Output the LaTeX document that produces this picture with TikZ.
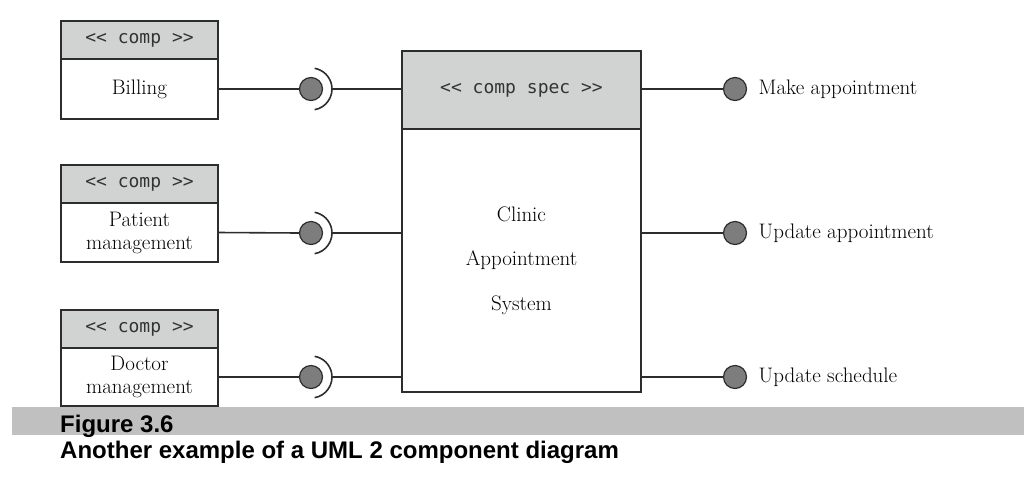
\documentclass[tikz,border=0pt]{standalone}
\usepackage{fontspec}
\usepackage{tikz}
\usetikzlibrary{positioning}
\newfontfamily\stereofont[Ligatures=TeXOff]{DejaVu Sans Mono}
\newfontfamily\capfont{Liberation Sans}
\definecolor{headgray}{RGB}{209,211,211}
\definecolor{ballgray}{RGB}{125,125,125}
\definecolor{linegray}{RGB}{45,45,45}
\definecolor{bargray}{RGB}{192,192,192}

\begin{document}
\begin{tikzpicture}[x=1pt,y=-1pt]
				\tikzstyle{comp}=[draw=linegray,line width=1.6pt,rectangle,minimum width=157pt,inner sep=0pt,outer sep=0pt,align=center,font=\fontsize{21}{23}\selectfont]
				\tikzstyle{head}=[fill=headgray,text=black!80,font=\stereofont\fontsize{18}{20}\selectfont]
				\tikzstyle{ball}=[circle,draw=linegray,fill=ballgray,line width=1.2pt,minimum size=23pt,inner sep=0pt,outer sep=0pt]
				\tikzstyle{wire}=[draw=linegray,line width=1.6pt]
				\tikzstyle{offer}=[inner sep=0pt,font=\fontsize{21}{23}\selectfont]
				\tikzstyle{capline}=[anchor=base west,inner sep=0pt,font=\capfont\bfseries\fontsize{24}{27}\selectfont]
				
				\useasboundingbox (0,0) rectangle (1024,491);
				
				% required components
				\node[comp,head,minimum height=38pt,anchor=north west] (billhead) at (61,21) {<< comp >>};
				\node[comp,minimum height=60pt,below=0pt of billhead] (bill) {Billing};
				\node[comp,head,minimum height=38pt,anchor=north west] (patienthead) at (61,165) {<< comp >>};
				\node[comp,minimum height=59pt,below=0pt of patienthead] (patient) {Patient\\management};
				\node[comp,head,minimum height=38pt,anchor=north west] (doctorhead) at (61,310) {<< comp >>};
				\node[comp,minimum height=58pt,below=0pt of doctorhead] (doctor) {Doctor\\management};
				
				% component spec
				\node[comp,head,minimum width=239pt,minimum height=78pt,anchor=north west] (spechead) at (402,51) {<< comp spec >>};
				\node[comp,minimum width=239pt,minimum height=263pt,below=0pt of spechead,font=\fontsize{21}{44.5}\selectfont] (spec) {Clinic\\Appointment\\System};
				
				% sockets
				\node[ball] (bball) at (311,89) {};
				\node[ball] (pball) at (311,233) {};
				\node[ball] (dball) at (311,377) {};
				\foreach \s in {bball,pball,dball}{
					\draw[wire] ([shift={(80:21)}]\s.center) arc[start angle=80,end angle=-80,radius=21];
					\coordinate (\s-sock) at ([xshift=21pt]\s.center);
				}
				\draw[wire] (bill.east) -- (bball.west);
				\draw[wire] (patient.east) -- (pball.west);
				\draw[wire] (doctor.east) -- (dball.west);
				\draw[wire] (bball-sock) -- (bball-sock -| spechead.west);
				\draw[wire] (pball-sock) -- (pball-sock -| spec.west);
				\draw[wire] (dball-sock) -- (dball-sock -| spec.west);
				
				% provided interfaces
				\node[ball] (mball) at (735,89) {};
				\node[ball] (uaball) at (735,233) {};
				\node[ball] (usball) at (735,377) {};
				\node[offer,right=12pt of mball] (make) {Make appointment};
				\node[offer,right=12pt of uaball] (updapp) {Update appointment};
				\node[offer,right=12pt of usball] (updsched) {Update schedule};
				\draw[wire] (mball -| spechead.east) -- (mball.west);
				\draw[wire] (uaball -| spec.east) -- (uaball.west);
				\draw[wire] (usball -| spec.east) -- (usball.west);
				
				% caption
				\fill[bargray] (12,407) rectangle (1024,435);
				\node[capline] (fignum) at (60,432) {Figure 3.6};
				\node[capline] (figtext) at (60,458) {Another example of a UML 2 component diagram};
				
\end{tikzpicture}
\end{document}
